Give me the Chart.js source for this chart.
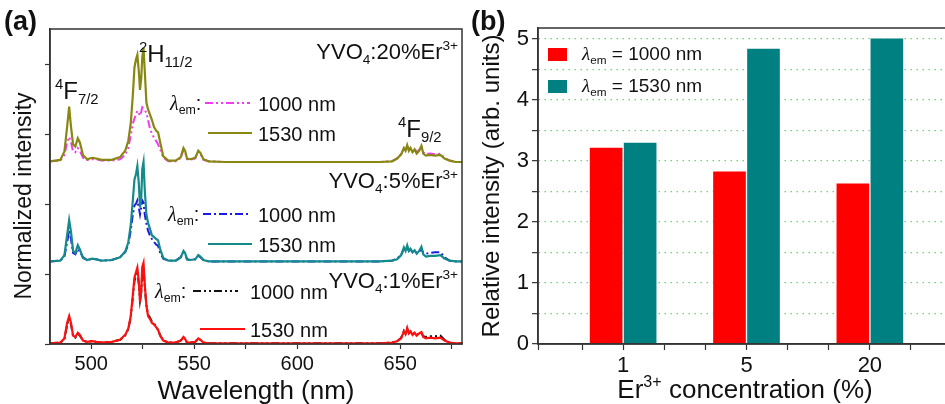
<!DOCTYPE html>
<html>
<head>
<meta charset="utf-8">
<script src="https://cdn.jsdelivr.net/npm/chart.js@4.4.1/dist/chart.umd.min.js"></script>
<style>
  html, body { margin: 0; padding: 0; background: #fff; overflow: hidden; }
  body { width: 945px; height: 404px; position: relative; }
  canvas { position: absolute; top: 0; }
  #specChart { left: 0; }
  #barChart { left: 465px; }
</style>
</head>
<body>
<canvas id="specChart" width="470" height="404"></canvas>
<canvas id="barChart" width="505" height="404"></canvas>
<script>
// ---- panel (a): excitation spectra, offset per sample ----
const wavelength = [
  480, 485, 487, 488.3, 489.3, 490.2, 491.2, 492.3, 493.5, 494.5,
  496, 498, 500.5, 502.5, 505, 510, 514, 516.5, 518, 519.2,
  520.2, 521, 521.7, 522.4, 523.1, 523.7, 524.3, 524.8, 525.4, 526,
  526.8, 527.6, 528.5, 529.5, 530.5, 531.5, 532.5, 533.5, 535, 537.5,
  541, 543.5, 544.8, 545.6, 546.5, 548, 550.5, 552, 553, 554.5,
  557, 565, 600, 640, 646, 648.5, 650.5, 651.8, 652.6, 653.4,
  654.2, 655, 656, 657, 658, 659.2, 660.3, 661.2, 662.5, 664.5,
  667, 669.5, 671.5, 674, 677, 680
];

const er20_1530 = [
  2.61, 2.63, 2.75, 3.10, 3.39, 3.10, 2.85, 2.82, 2.94, 2.88,
  2.70, 2.64, 2.66, 2.65, 2.63, 2.63, 2.67, 2.76, 2.90, 3.15,
  3.55, 3.95, 4.06, 4.13, 3.90, 3.63, 3.80, 4.10, 4.23, 3.90,
  3.45, 3.35, 3.28, 3.20, 3.10, 3.05, 3.02, 2.88, 2.68, 2.62,
  2.62, 2.67, 2.80, 2.76, 2.65, 2.64, 2.66, 2.76, 2.73, 2.64,
  2.61, 2.60, 2.60, 2.60, 2.61, 2.65, 2.71, 2.80, 2.76, 2.84,
  2.76, 2.80, 2.74, 2.78, 2.72, 2.76, 2.83, 2.72, 2.69, 2.70,
  2.69, 2.70, 2.65, 2.62, 2.60, 2.60
];
const er20_1000 = [
  2.61, 2.62, 2.70, 2.88, 2.96, 2.88, 2.75, 2.74, 2.80, 2.76,
  2.66, 2.63, 2.64, 2.64, 2.62, 2.62, 2.64, 2.70, 2.80, 2.98,
  3.15, 3.22, 3.28, 3.33, 3.30, 3.26, 3.32, 3.38, 3.36, 3.34,
  3.30, 3.20, 3.08, 3.00, 2.95, 2.90, 2.85, 2.78, 2.66, 2.61,
  2.61, 2.66, 2.78, 2.75, 2.64, 2.63, 2.65, 2.75, 2.72, 2.63,
  2.61, 2.60, 2.60, 2.60, 2.61, 2.65, 2.72, 2.80, 2.77, 2.83,
  2.77, 2.80, 2.75, 2.79, 2.74, 2.77, 2.82, 2.74, 2.71, 2.72,
  2.71, 2.72, 2.66, 2.62, 2.60, 2.60
];
const er5_1530 = [
  1.18, 1.19, 1.27, 1.55, 1.77, 1.60, 1.33, 1.30, 1.41, 1.35,
  1.23, 1.20, 1.22, 1.21, 1.19, 1.20, 1.24, 1.32, 1.45, 1.70,
  2.05, 2.35, 2.42, 2.54, 2.30, 1.95, 2.10, 2.50, 2.60, 2.20,
  1.85, 1.73, 1.65, 1.55, 1.53, 1.50, 1.48, 1.35, 1.23, 1.19,
  1.19, 1.24, 1.33, 1.30, 1.21, 1.20, 1.21, 1.27, 1.25, 1.20,
  1.18, 1.18, 1.18, 1.18, 1.19, 1.21, 1.27, 1.38, 1.33, 1.41,
  1.33, 1.36, 1.31, 1.34, 1.29, 1.33, 1.39, 1.28, 1.25, 1.26,
  1.26, 1.27, 1.22, 1.19, 1.18, 1.18
];
const er5_1000 = [
  1.18, 1.19, 1.25, 1.45, 1.62, 1.50, 1.30, 1.28, 1.36, 1.32,
  1.24, 1.20, 1.22, 1.21, 1.19, 1.20, 1.24, 1.31, 1.42, 1.62,
  1.85, 1.98, 2.00, 2.05, 1.95, 1.85, 1.95, 2.05, 2.02, 1.85,
  1.72, 1.62, 1.55, 1.50, 1.46, 1.42, 1.40, 1.30, 1.22, 1.19,
  1.19, 1.24, 1.31, 1.29, 1.21, 1.20, 1.21, 1.26, 1.24, 1.20,
  1.18, 1.18, 1.18, 1.18, 1.19, 1.22, 1.28, 1.36, 1.32, 1.38,
  1.33, 1.35, 1.31, 1.33, 1.30, 1.32, 1.36, 1.30, 1.29, 1.30,
  1.31, 1.31, 1.24, 1.19, 1.18, 1.18
];
const er1_1530 = [
  0.01, 0.02, 0.08, 0.30, 0.40, 0.30, 0.12, 0.10, 0.16, 0.13,
  0.05, 0.03, 0.04, 0.03, 0.02, 0.03, 0.06, 0.13, 0.22, 0.40,
  0.70, 0.95, 1.02, 1.09, 0.90, 0.60, 0.75, 1.10, 1.16, 0.85,
  0.55, 0.40, 0.36, 0.30, 0.28, 0.24, 0.20, 0.12, 0.05, 0.02,
  0.02, 0.05, 0.10, 0.07, 0.02, 0.02, 0.03, 0.08, 0.06, 0.02,
  0.01, 0.01, 0.01, 0.01, 0.02, 0.04, 0.08, 0.18, 0.14, 0.23,
  0.15, 0.18, 0.13, 0.16, 0.12, 0.15, 0.17, 0.10, 0.08, 0.09,
  0.08, 0.09, 0.05, 0.02, 0.01, 0.01
];
const er1_1000 = [
  0.01, 0.02, 0.07, 0.27, 0.37, 0.28, 0.11, 0.09, 0.15, 0.12,
  0.05, 0.03, 0.04, 0.03, 0.02, 0.03, 0.06, 0.12, 0.21, 0.38,
  0.66, 0.90, 0.98, 1.04, 0.86, 0.62, 0.74, 1.05, 1.10, 0.82,
  0.55, 0.42, 0.38, 0.32, 0.29, 0.25, 0.20, 0.12, 0.05, 0.02,
  0.02, 0.05, 0.10, 0.07, 0.02, 0.02, 0.03, 0.08, 0.06, 0.02,
  0.01, 0.01, 0.01, 0.01, 0.02, 0.04, 0.09, 0.19, 0.15, 0.22,
  0.16, 0.18, 0.14, 0.16, 0.13, 0.15, 0.16, 0.11, 0.10, 0.11,
  0.11, 0.12, 0.06, 0.02, 0.01, 0.01
];

const wlTicks = [500, 525, 550, 575, 600, 625, 650, 675];
const wlLabels = [500, 550, 600, 650];
const offsetTicks = [0, 1, 2, 3, 4];

// ---- panel (b): relative intensity vs Er3+ concentration ----
const concLabels = ['1', '5', '20'];
const concPos = [0, 1, 2];
const rel1000 = [3.23, 2.84, 2.64];
const rel1530 = [3.31, 4.85, 5.02];
const relTicks = [0, 0.5, 1, 1.5, 2, 2.5, 3, 3.5, 4, 4.5, 5];
const concTicks = [-0.69, -1 / 3, 0, 1 / 3, 2 / 3, 1, 4 / 3, 5 / 3, 2, 7 / 3];

const FONT = "'Liberation Sans', Arial, sans-serif";
Chart.defaults.font.family = FONT;
Chart.defaults.color = '#111';

const toXY = (vals) => wavelength.map((x, i) => ({ x: x, y: vals[i] }));

// text with sub/superscripts: parts = [[text, kind]], kind '', 'sub', 'sup', 'i'
function drawRich(ctx, parts, x, y, size, align) {
  const segs = parts.map(([t, k]) => {
    const small = k === 'sub' || k === 'sup';
    const s = small ? size * 0.62 : size;
    const font = k === 'i' ? 'italic ' + s + "px 'Liberation Serif', serif" : s + 'px ' + FONT;
    ctx.font = font;
    return { t, font, w: ctx.measureText(t).width, dy: k === 'sub' ? size * 0.22 : k === 'sup' ? -size * 0.42 : 0 };
  });
  const total = segs.reduce((a, s) => a + s.w, 0);
  let cx = align === 'right' ? x - total : align === 'center' ? x - total / 2 : x;
  ctx.textAlign = 'left';
  ctx.textBaseline = 'alphabetic';
  segs.forEach(s => { ctx.font = s.font; ctx.fillText(s.t, cx, y + s.dy); cx += s.w; });
}

function sampleLine(ctx, ds, x1, x2, y) {
  ctx.save();
  ctx.strokeStyle = ds.borderColor;
  ctx.lineWidth = ds.borderWidth;
  ctx.setLineDash(ds.borderDash || []);
  ctx.beginPath();
  ctx.moveTo(x1, y);
  ctx.lineTo(x2, y);
  ctx.stroke();
  ctx.restore();
}

const specNotes = {
  id: 'specNotes',
  afterDraw(chart) {
    const ctx = chart.ctx;
    const ca = chart.chartArea;
    const ds = chart.data.datasets;
    ctx.save();
    ctx.strokeStyle = '#333';
    ctx.lineWidth = 1.5;
    ctx.strokeRect(ca.left, ca.top, ca.right - ca.left, ca.bottom - ca.top);
    ctx.fillStyle = '#111';

    ctx.font = 'bold 27px ' + FONT;
    ctx.textAlign = 'left';
    ctx.textBaseline = 'alphabetic';
    ctx.fillText('(a)', 4, 30);

    // y title
    ctx.save();
    ctx.translate(25, 196);
    ctx.rotate(-Math.PI / 2);
    ctx.font = '23px ' + FONT;
    ctx.textAlign = 'center';
    ctx.textBaseline = 'middle';
    ctx.fillText('Normalized intensity', 0, 0);
    ctx.restore();

    // level labels
    drawRich(ctx, [['4', 'sup'], ['F', ''], ['7/2', 'sub']], 55, 99, 24, 'left');
    drawRich(ctx, [['2', 'sup'], ['H', ''], ['11/2', 'sub']], 139, 62, 24, 'left');
    drawRich(ctx, [['4', 'sup'], ['F', ''], ['9/2', 'sub']], 398, 137, 24, 'left');

    // sample names
    drawRich(ctx, [['YVO', ''], ['4', 'sub'], [':20%Er', ''], ['3+', 'sup']], 458, 59, 22, 'right');
    drawRich(ctx, [['YVO', ''], ['4', 'sub'], [':5%Er', ''], ['3+', 'sup']], 458, 188, 22, 'right');
    drawRich(ctx, [['YVO', ''], ['4', 'sub'], [':1%Er', ''], ['3+', 'sup']], 458, 288, 22, 'right');

    // emission legends: [dashed idx, solid idx, lambda x, row1 y, row2 y, dashed x1, x2, solid x1, x2, text x]
    const groups = [
      [3, 0, 170, 103, 133, 205, 250, 208, 252, 258],
      [4, 1, 168, 214, 244, 203, 249, 208, 252, 258],
      [5, 2, 155, 291, 329, 193, 238, 200, 245, 250]
    ];
    groups.forEach(g => {
      drawRich(ctx, [['\u03bb', 'i'], ['em', 'sub'], [':', '']], g[2], g[3] + 7, 20, 'left');
      sampleLine(ctx, ds[g[0]], g[5], g[6], g[3]);
      sampleLine(ctx, ds[g[1]], g[7], g[8], g[4]);
      ctx.fillStyle = '#111';
      drawRich(ctx, [['1000 nm', '']], g[9], g[3] + 8, 20, 'left');
      drawRich(ctx, [['1530 nm', '']], g[9], g[4] + 8, 20, 'left');
    });
    ctx.restore();
  }
};

// solid (1530 nm) curves first so they sit on top of the dashed ones
new Chart('specChart', {
  type: 'line',
  data: {
    datasets: [
      { label: '20% 1530 nm', data: toXY(er20_1530), borderColor: '#878712', borderWidth: 2.2 },
      { label: '5% 1530 nm', data: toXY(er5_1530), borderColor: '#158a8a', borderWidth: 2.2 },
      { label: '1% 1530 nm', data: toXY(er1_1530), borderColor: '#ff1010', borderWidth: 2.2 },
      { label: '20% 1000 nm', data: toXY(er20_1000), borderColor: '#f03cf0', borderWidth: 2, borderDash: [8, 3, 2, 3, 2, 3] },
      { label: '5% 1000 nm', data: toXY(er5_1000), borderColor: '#1a1ae0', borderWidth: 2, borderDash: [8, 3, 2, 3] },
      { label: '1% 1000 nm', data: toXY(er1_1000), borderColor: '#111111', borderWidth: 2, borderDash: [8, 3, 2, 3, 2, 3] }
    ]
  },
  options: {
    responsive: false,
    animation: false,
    devicePixelRatio: 1,
    layout: { padding: { top: 29, right: 8, left: 0, bottom: 0 } },
    elements: { point: { radius: 0 }, line: { tension: 0 } },
    plugins: { legend: { display: false }, tooltip: { enabled: false } },
    scales: {
      x: {
        type: 'linear',
        min: 480,
        max: 680,
        afterBuildTicks: (ax) => { ax.ticks = wlTicks.map(v => ({ value: v })); },
        afterFit: (ax) => { ax.height = 60; },
        grid: { drawOnChartArea: false, tickLength: 5, tickColor: '#333', tickWidth: 1.2 },
        border: { color: '#333', width: 1.5 },
        ticks: {
          autoSkip: false,
          maxRotation: 0,
          padding: 3,
          font: { size: 20 },
          callback: (v) => wlLabels.includes(v) ? String(v) : ''
        },
        title: { display: true, text: 'Wavelength (nm)', font: { size: 26 }, padding: { top: 0, bottom: -3 } }
      },
      y: {
        min: 0,
        max: 4.5,
        afterBuildTicks: (ax) => { ax.ticks = offsetTicks.map(v => ({ value: v })); },
        afterFit: (ax) => { ax.width = 50; },
        grid: { drawOnChartArea: false, tickLength: 5, tickColor: '#333', tickWidth: 1.2 },
        border: { color: '#333', width: 1.5 },
        ticks: { display: false }
      }
    }
  },
  plugins: [specNotes]
});

const barNotes = {
  id: 'barNotes',
  afterDraw(chart) {
    const ctx = chart.ctx;
    const ca = chart.chartArea;
    const ds = chart.data.datasets;
    ctx.save();
    ctx.strokeStyle = '#333';
    ctx.lineWidth = 1.5;
    ctx.strokeRect(ca.left, ca.top, ca.right - ca.left, ca.bottom - ca.top);
    ctx.fillStyle = '#111';
    ctx.font = 'bold 27px ' + FONT;
    ctx.textAlign = 'left';
    ctx.textBaseline = 'alphabetic';
    ctx.fillText('(b)', 6, 30);

    // legend
    const rows = [[0, 48, 60, ' = 1000 nm'], [1, 80, 92, ' = 1530 nm']];
    rows.forEach(r => {
      ctx.fillStyle = ds[r[0]].backgroundColor;
      ctx.fillRect(ca.left + 10, r[1], 19, 13);
      ctx.fillStyle = '#111';
      drawRich(ctx, [['\u03bb', 'i'], ['em', 'sub'], [r[3], '']], ca.left + 44, r[2], 19, 'left');
    });

    // x title
    drawRich(ctx, [['Er', ''], ['3+', 'sup'], [' concentration (%)', '']], 280, 398, 26, 'center');
    ctx.restore();
  }
};

new Chart('barChart', {
  type: 'bar',
  data: {
    datasets: [
      { label: '1000 nm', data: concPos.map((x, i) => ({ x: x, y: rel1000[i] })), backgroundColor: '#ff0000', borderColor: 'rgba(255,255,255,0.7)', borderWidth: 1 },
      { label: '1530 nm', data: concPos.map((x, i) => ({ x: x, y: rel1530[i] })), backgroundColor: '#008080', borderColor: 'rgba(255,255,255,0.7)', borderWidth: 1 }
    ]
  },
  options: {
    responsive: false,
    animation: false,
    devicePixelRatio: 1,
    layout: { padding: { top: 28, right: 15, left: 0, bottom: 0 } },
    barThickness: 34,
    plugins: { legend: { display: false }, tooltip: { enabled: false } },
    scales: {
      x: {
        type: 'linear',
        min: -0.69,
        max: 2.69,
        offset: false,
        afterBuildTicks: (ax) => { ax.ticks = concTicks.map(v => ({ value: v })); },
        afterFit: (ax) => { ax.height = 60; },
        grid: { drawOnChartArea: false, offset: false, tickLength: 6, tickColor: '#333', tickWidth: 1.2 },
        border: { color: '#333', width: 1.5 },
        ticks: {
          autoSkip: false,
          maxRotation: 0,
          padding: 3,
          font: { size: 22 },
          callback: (v) => {
            const i = Math.round(v);
            return Math.abs(v - i) < 1e-6 && concLabels[i] ? concLabels[i] : '';
          }
        }
      },
      y: {
        min: 0,
        max: 5.18,
        afterBuildTicks: (ax) => { ax.ticks = relTicks.map(v => ({ value: v })); },
        afterFit: (ax) => { ax.width = 73; },
        grid: {
          color: (c) => c.tick && c.tick.value === 0 ? 'rgba(0,0,0,0)' : '#6cd86c',
          lineWidth: 1.3,
          tickLength: 6,
          tickColor: '#333',
          tickWidth: 1.2
        },
        border: { color: '#333', width: 1.5, dash: [1.5, 4.5] },
        ticks: {
          padding: 3,
          font: { size: 22 },
          callback: (v) => Number.isInteger(v) ? String(v) : ''
        },
        title: { display: true, text: 'Relative intensity (arb. units)', font: { size: 24 }, padding: { top: 13, bottom: 0 } }
      }
    }
  },
  plugins: [barNotes]
});
</script>
</body>
</html>
